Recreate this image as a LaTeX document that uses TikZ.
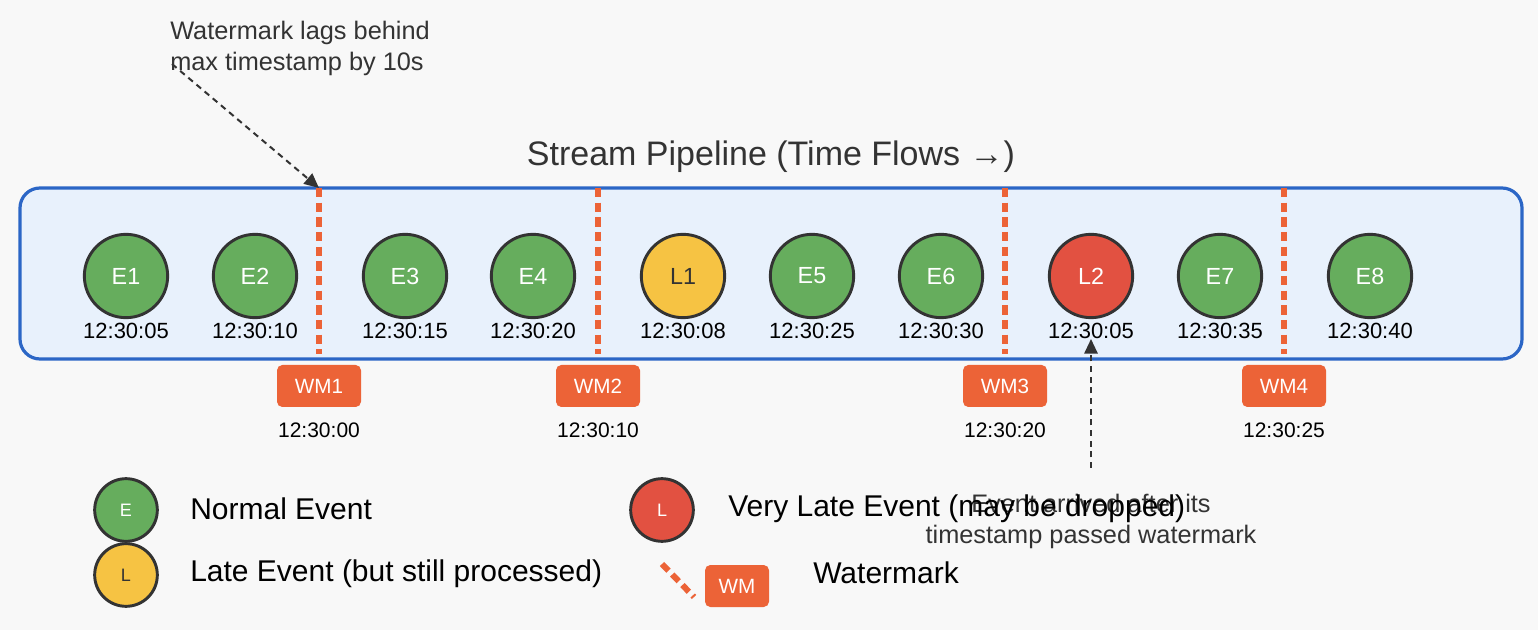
\documentclass[tikz,border=0pt]{standalone}
\usepackage{fontspec}
\setmainfont{Liberation Sans}
\usetikzlibrary{arrows.meta}
\definecolor{bg}{HTML}{F8F8F8}
\definecolor{boxfill}{HTML}{E8F1FC}
\definecolor{boxline}{HTML}{2B66C6}
\definecolor{evgreen}{HTML}{66AD5D}
\definecolor{evyellow}{HTML}{F6C343}
\definecolor{evred}{HTML}{E25141}
\definecolor{wmorange}{HTML}{EC6337}
\definecolor{ink}{HTML}{333333}
\tikzset{
  event/.style={circle, draw=ink, line width=2.2pt, minimum size=62.5pt, inner sep=0pt,
    font=\fontsize{17.5}{20}\selectfont, text=white},
  normal/.style={event, fill=evgreen},
  late/.style={event, fill=evyellow, text=ink},
  vlate/.style={event, fill=evred},
  legev/.style={event, minimum size=47pt, font=\fontsize{13.5}{15}\selectfont},
  ts/.style={font=\fontsize{16.5}{19}\selectfont, text=black, inner sep=0pt},
  wmline/.style={draw=wmorange, line width=4.5pt, dash pattern=on 7pt off 4pt},
  wmbox/.style={fill=wmorange, rounded corners=4pt, minimum width=63pt, minimum height=31.5pt,
    inner sep=0pt, text=white, font=\fontsize{15.5}{18}\selectfont},
  wmts/.style={font=\fontsize{15.75}{18}\selectfont, text=black, inner sep=0pt},
  legtext/.style={font=\fontsize{22.5}{26}\selectfont, text=black, anchor=west, inner sep=0pt},
  note/.style={font=\fontsize{19}{23.25}\selectfont, text=ink, inner sep=0pt},
  annot/.style={draw=ink, line width=1.5pt, dash pattern=on 4.5pt off 3.5pt,
    -{Triangle[length=11pt, width=10pt]}},
}
\begin{document}
\begin{tikzpicture}[x=0.75pt, y=-0.75pt]
\fill[bg] (0,0) rectangle (1538,630);
\useasboundingbox (0,0) rectangle (1538,630);

% title
\node[font=\fontsize{25.5}{30}\selectfont, text=ink, inner sep=0pt] (title) at (771,157) {Stream Pipeline (Time Flows →)};

% pipeline box
\draw[draw=boxline, fill=boxfill, line width=2.4pt, rounded corners=15pt] (20,188) rectangle (1522,359);

% watermark lines
\foreach \n/\x in {1/319, 2/598, 3/1005, 4/1284} {
  \coordinate (wm\n t) at (\x,188);
  \coordinate (wm\n b) at (\x,354);
  \draw[wmline] (wm\n t) -- (wm\n b);
}

% events
\node[normal] (e1) at (126,276) {E1};
\node[normal] (e2) at (255,276) {E2};
\node[normal] (e3) at (405,276) {E3};
\node[normal] (e4) at (533,276) {E4};
\node[late]   (l1) at (683,276) {L1};
\node[normal] (e5) at (812,276) {E5};
\node[normal] (e6) at (941,276) {E6};
\node[vlate]  (l2) at (1091,276) {L2};
\node[normal] (e7) at (1220,276) {E7};
\node[normal] (e8) at (1370,276) {E8};

% timestamps
\node[ts] (t1) at (126,331) {12:30:05};
\node[ts] (t2) at (255,331) {12:30:10};
\node[ts] (t3) at (405,331) {12:30:15};
\node[ts] (t4) at (533,331) {12:30:20};
\node[ts] (t5) at (683,331) {12:30:08};
\node[ts] (t6) at (812,331) {12:30:25};
\node[ts] (t7) at (941,331) {12:30:30};
\node[ts] (t8) at (1091,331) {12:30:05};
\node[ts] (t9) at (1220,331) {12:30:35};
\node[ts] (t10) at (1370,331) {12:30:40};

% watermark boxes
\node[wmbox] (wm1) at (319,386) {WM1};
\node[wmbox] (wm2) at (598,386) {WM2};
\node[wmbox] (wm3) at (1005,386) {WM3};
\node[wmbox] (wm4) at (1284,386) {WM4};
\node[wmts] (wt1) at (319,430) {12:30:00};
\node[wmts] (wt2) at (598,430) {12:30:10};
\node[wmts] (wt3) at (1005,430) {12:30:20};
\node[wmts] (wt4) at (1284,430) {12:30:25};

% annotations
\node[note, align=left, anchor=west] (n1) at (170,48) {Watermark lags behind\\max timestamp by 10s};
\coordinate (n1s) at (172,64);
\draw[annot] (n1s) -- (wm1t);

\coordinate (n2s) at (1091,468);
\coordinate (n2e) at (1091,339);
\draw[annot] (n2s) -- (n2e);
\node[note, align=center] (n2) at (1091,521) {Event arrived after its\\timestamp passed watermark};

% legend
\node[legev, fill=evgreen] (lg1) at (126,510) {E};
\node[legtext] (lt1) at (190,509) {Normal Event};
\node[legev, fill=evyellow, text=ink] (lg2) at (126,575) {L};
\node[legtext] (lt2) at (190,574) {Late Event (but still processed)};
\node[legev, fill=evred] (lg3) at (662,510) {L};
\node[legtext] (lt3) at (728,509) {Very Late Event (may be dropped)};
\coordinate (lw1) at (662,564);
\coordinate (lw2) at (694,597);
\draw[draw=wmorange, line width=4.5pt, dash pattern=on 7pt off 4pt] (lw1) -- (lw2);
\node[wmbox, minimum width=48pt] (lg4) at (737,586) {WM};
\node[legtext] (lt4) at (813,573) {Watermark};
\end{tikzpicture}
\end{document}
